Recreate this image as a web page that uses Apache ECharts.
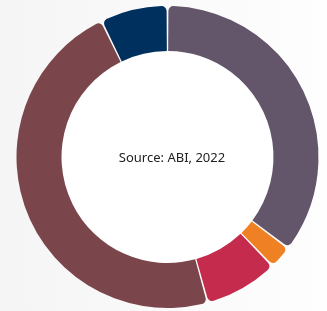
<!DOCTYPE html>
<html>
<head>
<meta charset="utf-8">
<script src="https://cdn.jsdelivr.net/npm/echarts@6/dist/echarts.min.js"></script>
<style>
  html, body { margin: 0; padding: 0; }
  #chart { width: 327px; height: 311px; }
</style>
</head>
<body>
<div id="chart"></div>
<script>
// share of each segment, clockwise from the top
var names = ['A', 'B', 'C', 'D', 'E'];
var values = [35.3, 2.5, 7.9, 47.1, 7.2];
var colors = ['#64566a', '#f08024', '#c42b4c', '#7b464b', '#00305e'];
var centerText = 'Source: ABI, 2022';

var chart = echarts.init(document.getElementById('chart'));

var data = names.map(function (n, i) {
    return { name: n, value: values[i], itemStyle: { color: colors[i] } };
});

chart.setOption({
    backgroundColor: {
        type: 'linear', x: 0, y: 0, x2: 1, y2: 0,
        colorStops: [
            { offset: 0, color: '#f5f5f5' },
            { offset: 1, color: '#fefefe' }
        ]
    },
    title: {
        text: centerText,
        left: 167,
        top: 153,
        textAlign: 'center',
        textVerticalAlign: 'middle',
        textStyle: {
            fontFamily: 'Noto Sans',
            fontSize: 13,
            fontWeight: 'normal',
            color: '#222222'
        }
    },
    series: [{
        // white hole in the middle
        type: 'pie',
        center: [167.5, 157],
        radius: [0, 106],
        silent: true,
        z: 1,
        label: { show: false },
        labelLine: { show: false },
        itemStyle: { color: '#ffffff' },
        data: [{ name: 'hole', value: 1 }]
    }, {
        type: 'pie',
        center: [167.5, 157],
        radius: [106, 151],
        startAngle: 90,
        clockwise: true,
        padAngle: 0.7,
        silent: true,
        z: 2,
        label: { show: false },
        labelLine: { show: false },
        itemStyle: {
            borderRadius: [0, 5]
        },
        data: data
    }]
});
</script>
</body>
</html>
